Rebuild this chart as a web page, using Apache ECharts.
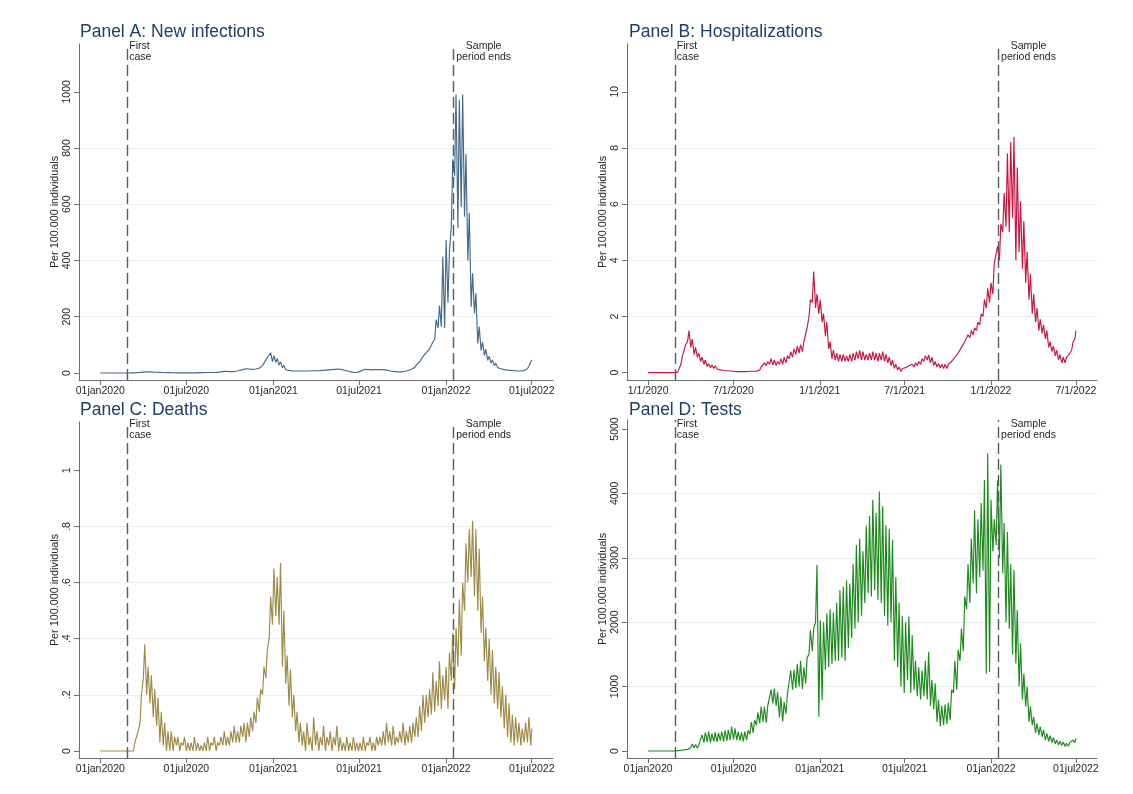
<!DOCTYPE html>
<html>
<head>
<meta charset="utf-8">
<title>COVID-19 indicators per 100.000 individuals</title>
<script src="https://cdn.jsdelivr.net/npm/echarts/dist/echarts.min.js"></script>
<style>
  html, body { margin: 0; padding: 0; background: #ffffff; }
  #chart { width: 1133px; height: 794px; }
</style>
</head>
<body>
<div id="chart"></div>
<script>
// ---- Time frame -------------------------------------------------------
const startDate = '2020-01-01';
const lastDate = '2022-07-01';
const firstCaseDate = '2020-02-27';
const sampleEndDate = '2022-01-17';

const tickDates = ['2020-01-01', '2020-07-01', '2021-01-01', '2021-07-01', '2022-01-01', '2022-07-01'];
const tickLabelsDmy = ['01jan2020', '01jul2020', '01jan2021', '01jul2021', '01jan2022', '01jul2022'];
const tickLabelsUs = ['1/1/2020', '7/1/2020', '1/1/2021', '7/1/2021', '1/1/2022', '7/1/2022'];

// ---- Weekly high / low daily values, one entry per week from 1 Jan 2020 ----
// Panel A: new infections
const infectionsHigh = [
  0, 0, 0, 0, 0, 0, 0, 0, 0,
  0.3, 1, 2, 3, 5, 7, 6, 5, 4, 3, 2.5,
  2, 1.5, 1.2, 1, 0.8, 0.7, 0.6, 0.6, 0.8, 1,
  1.5, 2, 2.5, 2.5, 2.5, 3, 5, 8, 9, 8,
  7, 9, 14, 18, 21, 19, 18, 19, 23, 35,
  55, 72, 62, 52, 40, 27, 17, 12, 10, 9,
  9, 10, 10, 10, 11, 11, 12, 13, 14, 15,
  16, 18, 19, 17, 12, 8, 5, 3, 6, 14,
  18, 17, 15, 16, 17, 17, 15, 12, 9, 7,
  6, 6, 9, 13, 18, 28, 40, 58, 72, 85,
  110, 190, 240, 414, 473, 430, 760, 990, 972, 990,
  780, 570, 355, 283, 165, 110, 85, 60, 46, 35,
  26, 21, 17, 14, 12, 11, 10, 10, 14, 25, 46
];
const infectionsLow = [
  0, 0, 0, 0, 0, 0, 0, 0, 0,
  0.1, 0.5, 1.2, 2, 3, 4, 4, 3, 2.5, 2, 1.5,
  1.2, 1, 0.8, 0.6, 0.5, 0.4, 0.4, 0.4, 0.5, 0.6,
  1, 1.4, 1.8, 1.8, 1.8, 2, 3, 5, 6, 5,
  5, 6, 9, 12, 15, 14, 13, 14, 17, 26,
  40, 48, 40, 38, 28, 19, 12, 9, 7, 7,
  7, 7, 7, 7, 8, 8, 8, 9, 10, 11,
  12, 13, 14, 12, 9, 6, 3, 1.5, 3, 9,
  13, 12, 11, 12, 12, 12, 11, 9, 6, 5,
  4, 4, 6, 9, 13, 20, 30, 44, 55, 65,
  80, 120, 160, 165, 160, 250, 520, 700, 515, 590,
  556, 400, 236, 212, 105, 80, 62, 45, 35, 26,
  19, 15, 12, 10, 9, 8, 7, 7, 9, 15, 30
];

// Panel B: hospitalizations
const hospitalHigh = [
  0, 0, 0, 0, 0, 0, 0, 0, 0,
  0.05, 0.6, 1.0, 1.5, 1.2, 0.9, 0.7, 0.55, 0.45, 0.32, 0.28,
  0.25, 0.2, 0.16, 0.14, 0.12, 0.11, 0.1, 0.09, 0.08, 0.08,
  0.09, 0.09, 0.1, 0.1, 0.2, 0.35, 0.4, 0.5, 0.45, 0.4,
  0.5, 0.55, 0.6, 0.75, 0.85, 0.95, 1.0, 1.1, 1.6, 2.6,
  3.6, 2.8, 2.6, 2.1, 1.8, 1.1, 0.8, 0.7, 0.65, 0.65,
  0.6, 0.65, 0.7, 0.75, 0.8, 0.75, 0.65, 0.7, 0.75, 0.7,
  0.7, 0.75, 0.65, 0.55, 0.45, 0.3, 0.2, 0.15, 0.18, 0.25,
  0.3, 0.35, 0.4, 0.5, 0.6, 0.63, 0.55, 0.4, 0.33, 0.3,
  0.3, 0.3, 0.4, 0.55, 0.7, 0.9, 1.1, 1.35, 1.5, 1.6,
  1.8, 2.1, 2.6, 3.0, 3.2, 3.9, 4.5, 5.3, 6.4, 7.8,
  8.2, 8.4, 7.3, 6.1, 5.4, 4.3, 3.5, 2.8, 2.3, 1.9,
  1.7, 1.5, 1.1, 0.95, 0.8, 0.65, 0.55, 0.55, 0.7, 1.1, 1.5
];
const hospitalLow = [
  0, 0, 0, 0, 0, 0, 0, 0, 0,
  0.02, 0.3, 0.8, 1.1, 0.9, 0.65, 0.55, 0.4, 0.3, 0.22, 0.18,
  0.15, 0.13, 0.1, 0.08, 0.07, 0.06, 0.05, 0.04, 0.04, 0.04,
  0.04, 0.05, 0.05, 0.05, 0.1, 0.2, 0.25, 0.3, 0.28, 0.25,
  0.3, 0.3, 0.35, 0.5, 0.55, 0.65, 0.7, 0.75, 1.1, 2.0,
  2.5, 2.3, 2.1, 1.8, 1.3, 0.85, 0.5, 0.45, 0.4, 0.4,
  0.4, 0.4, 0.4, 0.45, 0.5, 0.45, 0.45, 0.45, 0.45, 0.45,
  0.4, 0.45, 0.4, 0.35, 0.25, 0.15, 0.1, 0.05, 0.08, 0.15,
  0.2, 0.2, 0.25, 0.3, 0.4, 0.45, 0.35, 0.25, 0.2, 0.17,
  0.15, 0.15, 0.25, 0.35, 0.5, 0.7, 0.9, 1.1, 1.25, 1.35,
  1.5, 1.7, 2.0, 2.3, 2.5, 2.8, 3.9, 4.0, 5.0, 5.2,
  5.0, 5.5, 4.0, 4.3, 3.7, 3.2, 2.6, 2.1, 1.8, 1.5,
  1.4, 1.2, 0.9, 0.75, 0.6, 0.45, 0.35, 0.35, 0.5, 0.8, 1.2
];

// Panel C: deaths
const deathsHigh = [
  0, 0, 0, 0, 0, 0, 0, 0, 0, 0,
  0.03, 0.07, 0.2, 0.38, 0.3, 0.27, 0.22, 0.19, 0.14, 0.1,
  0.07, 0.07, 0.05, 0.05, 0.03, 0.05, 0.03, 0.03, 0.05, 0.03,
  0.02, 0.03, 0.05, 0.03, 0.05, 0.03, 0.05, 0.07, 0.05, 0.07,
  0.09, 0.07, 0.09, 0.1, 0.1, 0.12, 0.14, 0.19, 0.22, 0.3,
  0.36, 0.55, 0.65, 0.62, 0.67, 0.5, 0.34, 0.29, 0.2, 0.14,
  0.1, 0.07, 0.1, 0.05, 0.12, 0.07, 0.05, 0.09, 0.05, 0.07,
  0.05, 0.09, 0.05, 0.03, 0.05, 0.03, 0.05, 0.03, 0.03, 0.05,
  0.03, 0.05, 0.03, 0.05, 0.05, 0.07, 0.1, 0.07, 0.09, 0.05,
  0.07, 0.1, 0.07, 0.09, 0.1, 0.12, 0.16, 0.2, 0.2, 0.22,
  0.28, 0.25, 0.32, 0.27, 0.3, 0.35, 0.42, 0.44, 0.54, 0.6,
  0.74, 0.79, 0.82, 0.79, 0.72, 0.55, 0.44, 0.4, 0.36, 0.3,
  0.28, 0.23, 0.2, 0.17, 0.13, 0.12, 0.1, 0.08, 0.1, 0.12, 0.08
];
const deathsLow = [
  0, 0, 0, 0, 0, 0, 0, 0, 0, 0,
  0, 0.03, 0.1, 0.26, 0.2, 0.17, 0.12, 0.09, 0.03, 0.02,
  0, 0, 0, 0.02, 0, 0.02, 0, 0, 0, 0,
  0, 0, 0, 0, 0.02, 0, 0.02, 0.02, 0.02, 0.02,
  0.03, 0.03, 0.03, 0.05, 0.03, 0.05, 0.07, 0.1, 0.14, 0.2,
  0.26, 0.4, 0.45, 0.48, 0.45, 0.3, 0.24, 0.16, 0.12, 0.07,
  0.03, 0.02, 0, 0.02, 0, 0.02, 0, 0.02, 0, 0.02,
  0, 0.02, 0, 0, 0, 0, 0, 0, 0, 0,
  0, 0.02, 0, 0, 0.02, 0.02, 0.02, 0.03, 0.02, 0.02,
  0.03, 0.03, 0.02, 0.03, 0.03, 0.05, 0.05, 0.07, 0.1, 0.12,
  0.13, 0.14, 0.16, 0.15, 0.18, 0.15, 0.25, 0.22, 0.3, 0.34,
  0.5, 0.6, 0.62, 0.55, 0.5, 0.42, 0.32, 0.25, 0.2, 0.17,
  0.15, 0.12, 0.08, 0.05, 0.03, 0.02, 0.03, 0.02, 0.03, 0.03, 0.02
];

// Panel D: tests
const testsHigh = [
  0, 0, 0, 0, 0, 0, 0, 0, 0,
  15, 25, 35, 40, 110, 100, 90, 250, 290, 300, 270,
  290, 280, 300, 320, 330, 380, 350, 300, 290, 300,
  320, 450, 480, 600, 690, 690, 700, 950, 970, 920,
  840, 760, 880, 1250, 1260, 1350, 1400, 1300, 1450, 1880,
  1900, 2890, 2030, 2000, 2140, 2200, 2150, 2300, 2500, 2550,
  2650, 2600, 2900, 3200, 3300, 3100, 3500, 3650, 3900, 3700,
  4030, 3800, 3500, 3450, 3280, 2700, 2300, 2100, 2000, 2090,
  1800, 1400, 1300, 1250, 1400, 1540, 1100, 1050, 800, 700,
  720, 750, 950, 1400, 1570, 1900, 2400, 2900, 3300, 3740,
  3600, 3850, 4210, 4620, 3900, 3600, 4200, 4450, 3540, 3400,
  2900, 2810, 2190, 1670, 1200, 1000, 690, 530, 430, 380,
  326, 275, 240, 210, 170, 150, 140, 120, 130, 170, 197
];
const testsLow = [
  0, 0, 0, 0, 0, 0, 0, 0, 0,
  5, 10, 20, 25, 50, 50, 45, 100, 130, 140, 130,
  150, 140, 160, 150, 160, 170, 180, 170, 160, 150,
  170, 260, 280, 400, 430, 450, 440, 700, 740, 700,
  520, 460, 580, 900, 950, 980, 1000, 960, 1050, 1500,
  1550, 2000, 533, 790, 1260, 1300, 1350, 1400, 1400, 1450,
  1400, 1600, 1750, 1900, 2000, 2100, 2300, 2450, 2400, 2500,
  2350, 2300, 2100, 1950, 2000, 1400, 1300, 1000, 900, 1100,
  900, 950, 850, 800, 850, 800, 700, 650, 450, 380,
  400, 420, 480, 900, 950, 1400, 1550, 2200, 2300, 2600,
  2450, 2700, 2800, 1200, 1230, 3100, 3200, 3000, 2760, 2000,
  1900, 1500, 1360, 1000, 800, 690, 450, 400, 280, 250,
  220, 170, 150, 130, 110, 95, 85, 70, 75, 110, 130
];

// Y-axis label positions
const yTicksInfections = [0, 200, 400, 600, 800, 1000];
const yTicksHospital = [0, 2, 4, 6, 8, 10];
const yTicksDeaths = [0, 0.2, 0.4, 0.6, 0.8, 1];
const yTicksTests = [0, 1000, 2000, 3000, 4000, 5000];

// ---- Helpers ----------------------------------------------------------
const FONT = '"Liberation Sans", Arial, Helvetica, sans-serif';
const TITLE_COLOR = '#1f3d6b';
const AXIS_COLOR = '#6e6e6e';
const TEXT_COLOR = '#262626';
const GRID_COLOR = '#e7eff0';
const REF_LINE_COLOR = '#5a5a5a';

const DAY_MS = 86400000;
const startMs = Date.parse(startDate + 'T00:00:00Z');
const dayOf = s => Math.round((Date.parse(s + 'T00:00:00Z') - startMs) / DAY_MS);

const lastDay = dayOf(lastDate);
const firstCaseDay = dayOf(firstCaseDate);
const sampleEndDay = dayOf(sampleEndDate);
const tickDays = tickDates.map(dayOf);

// Each week contributes its low and its high day, giving the weekly saw-tooth
function weeklySeries(high, low) {
  const out = [];
  for (let w = 0; w < high.length; w++) {
    out.push([Math.min(7 * w, lastDay), low[w]]);
    out.push([Math.min(7 * w + 3, lastDay), high[w]]);
  }
  return out;
}

const stataDecimal = v => {
  const s = String(+v.toFixed(4));
  return s.startsWith('0.') ? s.slice(1) : s;
};

const panels = [
  { title: 'Panel A: New infections', color: '#44698a', high: infectionsHigh, low: infectionsLow,
    yTicks: yTicksInfections, yMin: -25, yMax: 1170, yFmt: v => String(v), xLabels: tickLabelsDmy,
    grid: { left: 79, top: 44, width: 474, height: 336 }, titlePos: { left: 80, top: 23 }, noteDy: -3 },
  { title: 'Panel B: Hospitalizations', color: '#c8163e', high: hospitalHigh, low: hospitalLow,
    yTicks: yTicksHospital, yMin: -0.26, yMax: 11.7, yFmt: v => String(v), xLabels: tickLabelsUs,
    grid: { left: 627, top: 44, width: 470, height: 336 }, titlePos: { left: 629, top: 23 }, noteDy: -3 },
  { title: 'Panel C: Deaths', color: '#9e8a47', high: deathsHigh, low: deathsLow,
    yTicks: yTicksDeaths, yMin: -0.025, yMax: 1.172, yFmt: stataDecimal, xLabels: tickLabelsDmy,
    grid: { left: 79, top: 422, width: 474, height: 336 }, titlePos: { left: 80, top: 401 }, noteDy: -3 },
  { title: 'Panel D: Tests', color: '#1d8a1d', high: testsHigh, low: testsLow,
    yTicks: yTicksTests, yMin: -109, yMax: 5140, yFmt: v => String(v), xLabels: tickLabelsDmy,
    grid: { left: 627, top: 420, width: 470, height: 338 }, titlePos: { left: 629, top: 401 }, noteDy: -1 }
];

const option = {
  backgroundColor: '#ffffff',
  animation: false,
  textStyle: { fontFamily: FONT },
  title: panels.map(p => ({
    text: p.title,
    left: p.titlePos.left,
    top: p.titlePos.top,
    padding: 0,
    textStyle: { fontFamily: FONT, fontSize: 17.5, fontWeight: 'normal', color: TITLE_COLOR }
  })),
  grid: panels.map(p => Object.assign({ containLabel: false, outerBoundsMode: 'none' }, p.grid)),
  xAxis: panels.map((p, i) => ({
    gridIndex: i,
    type: 'value',
    min: -45,
    max: 957,
    axisLine: { show: true, onZero: false, lineStyle: { color: AXIS_COLOR, width: 1 } },
    axisTick: { show: true, length: 5, customValues: tickDays, lineStyle: { color: AXIS_COLOR } },
    axisLabel: {
      customValues: tickDays, margin: 6, fontSize: 10.5, color: TEXT_COLOR, fontFamily: FONT,
      formatter: v => p.xLabels[tickDays.indexOf(v)] || ''
    },
    splitLine: { show: false }
  })),
  yAxis: panels.map((p, i) => ({
    gridIndex: i,
    type: 'value',
    min: p.yMin,
    max: p.yMax,
    name: 'Per 100.000 individuals',
    nameLocation: 'middle',
    nameRotate: 90,
    nameGap: 18,
    nameTextStyle: { fontSize: 10.8, color: TEXT_COLOR, fontFamily: FONT },
    axisLine: { show: true, onZero: false, lineStyle: { color: AXIS_COLOR, width: 1 } },
    axisTick: { show: true, length: 5, customValues: p.yTicks, lineStyle: { color: AXIS_COLOR } },
    axisLabel: {
      customValues: p.yTicks, rotate: 90, margin: 6, fontSize: 10.5, color: TEXT_COLOR,
      fontFamily: FONT, formatter: v => p.yFmt(v)
    },
    splitLine: { show: true, showMinLine: false, showMaxLine: false, lineStyle: { color: GRID_COLOR, width: 1 } }
  })),
  series: panels.map((p, i) => ({
    type: 'line',
    xAxisIndex: i,
    yAxisIndex: i,
    data: weeklySeries(p.high, p.low),
    showSymbol: false,
    symbol: 'none',
    lineStyle: { color: p.color, width: 1.15 },
    itemStyle: { color: p.color },
    emphasis: { disabled: true },
    markLine: {
      silent: true,
      symbol: ['none', 'none'],
      label: { show: false },
      emphasis: { disabled: true },
      lineStyle: { color: REF_LINE_COLOR, type: [11, 5], width: 1.4 },
      data: [{ xAxis: firstCaseDay }, { xAxis: sampleEndDay }]
    },
    markPoint: {
      silent: true,
      symbol: 'circle',
      symbolSize: 0,
      itemStyle: { color: 'rgba(0,0,0,0)' },
      data: [
        { coord: [firstCaseDay, p.yMax],
          label: { show: true, formatter: 'First\ncase', position: [2, p.noteDy], align: 'left', verticalAlign: 'top',
                   fontSize: 10.5, lineHeight: 11, color: TEXT_COLOR, fontFamily: FONT } },
        { coord: [sampleEndDay, p.yMax],
          label: { show: true, formatter: 'Sample\nperiod ends', position: [30, p.noteDy], align: 'center', verticalAlign: 'top',
                   fontSize: 10.5, lineHeight: 11, color: TEXT_COLOR, fontFamily: FONT } }
      ]
    }
  }))
};

const chart = echarts.init(document.getElementById('chart'), null, { renderer: 'canvas' });
chart.setOption(option);
</script>
</body>
</html>
